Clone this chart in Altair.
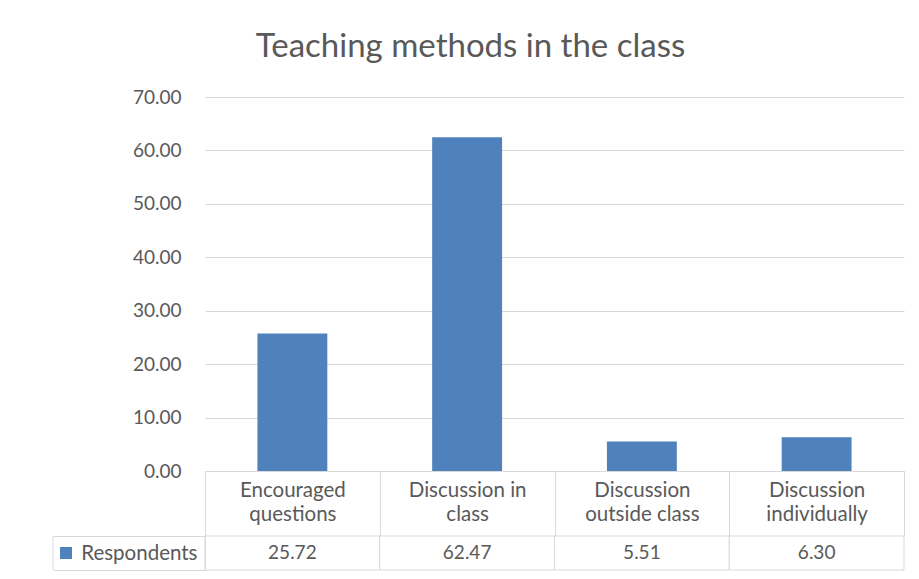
import altair as alt
import pandas as pd

# ---- data ----
categories = ["Encouraged questions", "Discussion in class",
              "Discussion outside class", "Discussion individually"]
label_lines = [["Encouraged", "questions"], ["Discussion in", "class"],
               ["Discussion", "outside class"], ["Discussion", "individually"]]
values = [25.72, 62.47, 5.51, 6.30]
series_name = "Respondents"
y_ticks = [0, 10, 20, 30, 40, 50, 60, 70]
title_text = "Teaching methods in the class"

df = pd.DataFrame({"category": categories, "value": values, "series": series_name})

FONT = "Lato"
GRID = "#d9d9d9"
TEXT = "#595959"
BAR = "#4F81BD"
FS = 19
FS_CAT = 20.5

# multi-line category labels
expr = "''"
for cat, lines in reversed(list(zip(categories, label_lines))):
    arr = "[" + ",".join("'" + l + "'" for l in lines) + "]"
    expr = f"datum.value == '{cat}' ? {arr} : ({expr})"

band = alt.Scale(paddingInner=0, paddingOuter=0)

bars = alt.Chart(df).mark_bar(color=BAR, width=alt.RelativeBandSize(0.4)).encode(
    x=alt.X("category:N", sort=categories, scale=band,
            axis=alt.Axis(title=None, labelAngle=0, labelExpr=expr,
                          tickBand="extent", tickSize=65, tickColor=GRID,
                          domainColor=GRID, labelPadding=-56,
                          labelFontSize=FS_CAT, labelColor=TEXT, labelFont=FONT,
                          labelLineHeight=24, labelBaseline="top")),
    y=alt.Y("value:Q", scale=alt.Scale(domain=[0, 70]),
            axis=alt.Axis(title=None, values=y_ticks, format=".2f", grid=True,
                          gridColor=GRID, domain=False, ticks=False,
                          labelPadding=24, labelFontSize=FS, labelColor=TEXT,
                          labelFont=FONT)),
).properties(width=699, height=374)

table_y = alt.Y("series:N", scale=band,
                axis=alt.Axis(title=None, tickBand="extent", tickSize=152,
                              tickColor=GRID, domainColor=GRID, labelPadding=-144,
                              labelFontSize=FS_CAT, labelColor=TEXT, labelFont=FONT))
base_b = alt.Chart(df).encode(
    x=alt.X("category:N", sort=categories, scale=band, axis=None),
    y=table_y,
)
cells = base_b.mark_rect(fill="white", stroke=GRID, strokeWidth=1)
cell_text = base_b.mark_text(font=FONT, fontSize=FS, color=TEXT).encode(
    text=alt.Text("value:Q", format=".2f"))
swatch = alt.Chart(df).transform_filter(
    alt.datum.category == categories[0]
).mark_square(color=BAR, size=144, opacity=1).encode(
    x=alt.value(-139), y=table_y)
left_edge = alt.Chart(df).transform_filter(
    alt.datum.category == categories[0]
).mark_rule(color=GRID).encode(x=alt.value(-152), y=alt.value(0), y2=alt.value(34))

table = alt.layer(cells, cell_text, swatch, left_edge).properties(width=699, height=34)

chart = alt.vconcat(bars, table, spacing=65, bounds="flush").properties(
    title=alt.TitleParams(title_text, font=FONT, fontSize=33, fontWeight="normal",
                          color=TEXT, anchor="middle", offset=24, dx=-8),
    padding={"left": 44, "top": 23, "right": 0, "bottom": 0},
    background="white",
).configure_view(strokeWidth=0)

chart.save("out.html", embed_options={"renderer": "svg", "actions": False})
